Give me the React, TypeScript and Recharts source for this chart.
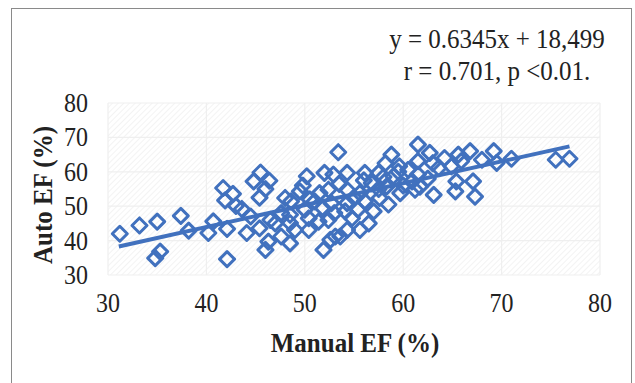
import React from "react";
import { ScatterChart, Scatter, XAxis, YAxis, CartesianGrid, ReferenceLine } from "recharts";

const manualEF: number[] = [
  31.2, 33.2, 35.0, 37.4, 38.2, 35.3, 34.8, 45.5, 44.8, 46.4, 41.7, 42.7, 41.9, 43.0, 45.4, 43.6,
  40.7, 40.2, 42.1, 44.1, 45.4, 46.3, 46.0, 42.1, 53.4, 50.2, 52.0, 52.9, 48.0, 49.5, 51.5, 52.4,
  48.6, 50.0, 51.0, 52.7, 47.6, 48.5, 50.4, 51.4, 52.4, 50.4, 49.0, 47.6, 48.5, 53.1, 52.6, 51.9,
  58.8, 58.2, 59.6, 57.5, 56.1, 54.3, 59.0, 56.8, 58.3, 59.7, 54.3, 55.6, 57.6, 54.3, 56.1, 57.0,
  55.4, 54.1, 54.8, 54.3, 55.6, 53.6, 61.5, 62.7, 64.2, 65.6, 66.8, 61.5, 64.9, 65.9, 60.5, 63.6,
  61.5, 60.9, 65.4, 65.3, 61.7, 61.2, 63.1, 67.3, 68.0, 69.5, 71.0, 75.5, 76.9, 67.1, 69.2,
  47.0, 49.8, 53.5, 56.0, 57.5, 50.5, 53.0, 46.5, 44.5, 58.5, 60.0, 62.5, 63.0, 46.0, 48.5, 51.8,
  55.0, 56.5, 58.0, 59.5,
];
const autoEF: number[] = [
  42.0, 44.4, 45.5, 47.2, 42.9, 36.8, 34.9, 59.8, 57.2, 57.4, 55.3, 53.6, 51.7, 50.1, 52.5, 49.2,
  45.6, 42.2, 43.4, 42.2, 43.6, 39.7, 37.3, 34.6, 65.7, 58.7, 59.7, 59.2, 52.4, 54.3, 53.8, 54.8,
  51.4, 49.0, 51.4, 50.9, 48.0, 45.1, 46.5, 45.5, 46.0, 43.1, 43.1, 41.2, 39.2, 41.2, 40.2, 37.3,
  65.0, 62.5, 61.6, 59.7, 59.7, 59.7, 58.7, 56.7, 55.7, 53.8, 54.8, 53.8, 52.4, 50.9, 51.4, 48.5,
  49.0, 48.5, 46.5, 43.1, 43.1, 41.2, 67.9, 65.5, 64.0, 65.0, 66.0, 63.1, 61.6, 63.1, 60.6, 61.1,
  59.2, 57.2, 57.2, 54.3, 55.7, 54.8, 53.3, 52.8, 63.5, 62.6, 63.8, 63.5, 63.8, 57.2, 66.0,
  45.0, 56.0, 56.5, 57.5, 55.0, 52.0, 48.0, 46.0, 47.0, 50.5, 56.0, 58.0, 62.5, 55.0, 47.5, 49.5,
  52.5, 45.0, 58.5, 60.0,
];
const trendManual: number[] = [31.1, 76.9];
const trendAuto: number[] = [38.3, 67.4];
const xTicks: number[] = [30, 40, 50, 60, 70, 80];
const yTicks: number[] = [30, 40, 50, 60, 70, 80];
const equationText = "y = 0.6345x + 18,499";
const statsText = "r = 0.701, p <0.01.";
const xTitle = "Manual EF (%)";
const yTitle = "Auto EF (%)";

const points = manualEF.map((x, i) => ({ x, y: autoEF[i] }));

const BLUE = "#4171BE";
const TEXT = "#222222";
const FONT = "'Liberation Serif', 'Times New Roman', serif";

const Diamond = (props: any) => {
  const { cx, cy } = props;
  if (cx == null || cy == null) return null;
  const r = 7.5;
  return (
    <path
      d={`M${cx},${cy - r}L${cx + r},${cy}L${cx},${cy + r}L${cx - r},${cy}Z`}
      fill="none"
      stroke={BLUE}
      strokeWidth={3}
      strokeLinejoin="round"
    />
  );
};

const XTick = (props: any) => {
  const { x, payload } = props;
  const cy = 303;
  return (
    <text
      x={x}
      y={cy}
      textAnchor="middle"
      dominantBaseline="central"
      fontFamily={FONT}
      fontSize={24}
      fill={TEXT}
      transform={`translate(${x},${cy}) scale(1,1.12) translate(${-x},${-cy})`}
    >
      {payload.value}
    </text>
  );
};

const YTick = (props: any) => {
  const { y, payload } = props;
  const x = 88;
  return (
    <text
      x={x}
      y={y}
      textAnchor="end"
      dominantBaseline="central"
      fontFamily={FONT}
      fontSize={24}
      fill={TEXT}
      transform={`translate(${x},${y}) scale(1,1.12) translate(${-x},${-y})`}
    >
      {payload.value}
    </text>
  );
};

export default function App() {
  return (
    <div style={{ position: "absolute", left: 0, top: 0, width: 635, height: 383, background: "#fff", overflow: "hidden" }}>
      <svg width={0} height={0} style={{ position: "absolute" }}>
        <defs>
          <pattern id="hatch" width="4" height="4" patternUnits="userSpaceOnUse" patternTransform="rotate(45)">
            <rect width="4" height="4" fill="#ffffff" />
            <line x1="0" y1="0" x2="0" y2="4" stroke="#f3f3f3" strokeWidth="2" />
          </pattern>
        </defs>
      </svg>
      <div
        style={{
          position: "absolute",
          left: 11,
          top: 8,
          width: 621,
          height: 400,
          borderLeft: "1.5px solid #8a8a8a",
          borderTop: "1.5px solid #8a8a8a",
          borderRight: "1.5px solid #8a8a8a",
          boxSizing: "border-box",
        }}
      />
      <div style={{ position: "absolute", left: 0, top: 0 }}>
        <ScatterChart width={635} height={383} margin={{ top: 103, right: 35, bottom: 68, left: 0 }}>
          <CartesianGrid stroke="#efefef" strokeWidth={1.2} fill="url(#hatch)" />
          <XAxis
            type="number"
            dataKey="x"
            domain={[30, 80]}
            ticks={xTicks}
            axisLine={false}
            tickLine={false}
            height={40}
            tick={<XTick />}
            interval={0}
          />
          <YAxis
            type="number"
            dataKey="y"
            domain={[30, 80]}
            ticks={yTicks}
            axisLine={false}
            tickLine={false}
            width={108}
            tick={<YTick />}
            interval={0}
          />
          <Scatter data={points} shape={<Diamond />} isAnimationActive={false} />
          <ReferenceLine
            segment={[
              { x: trendManual[0], y: trendAuto[0] },
              { x: trendManual[1], y: trendAuto[1] },
            ]}
            stroke={BLUE}
            strokeWidth={4}
            ifOverflow="visible"
          />
        </ScatterChart>
      </div>
      <div
        style={{
          position: "absolute",
          left: 357,
          top: 26,
          width: 280,
          textAlign: "center",
          fontFamily: FONT,
          fontSize: 25,
          color: TEXT,
          lineHeight: "29px",
          transform: "scaleY(1.1)",
          whiteSpace: "nowrap",
        }}
      >
        <div>{equationText}</div>
        <div>{statsText}</div>
      </div>
      <div
        style={{
          position: "absolute",
          left: 205,
          top: 328,
          width: 300,
          textAlign: "center",
          fontFamily: FONT,
          fontSize: 25,
          fontWeight: "bold",
          color: TEXT,
          lineHeight: "30px",
          transform: "scaleY(1.12)",
          whiteSpace: "nowrap",
        }}
      >
        {xTitle}
      </div>
      <div
        style={{
          position: "absolute",
          left: 43 - 100,
          top: 195 - 15,
          width: 200,
          textAlign: "center",
          fontFamily: FONT,
          fontSize: 25,
          fontWeight: "bold",
          color: TEXT,
          lineHeight: "30px",
          transform: "rotate(-90deg) scaleY(1.12)",
          whiteSpace: "nowrap",
        }}
      >
        {yTitle}
      </div>
    </div>
  );
}
